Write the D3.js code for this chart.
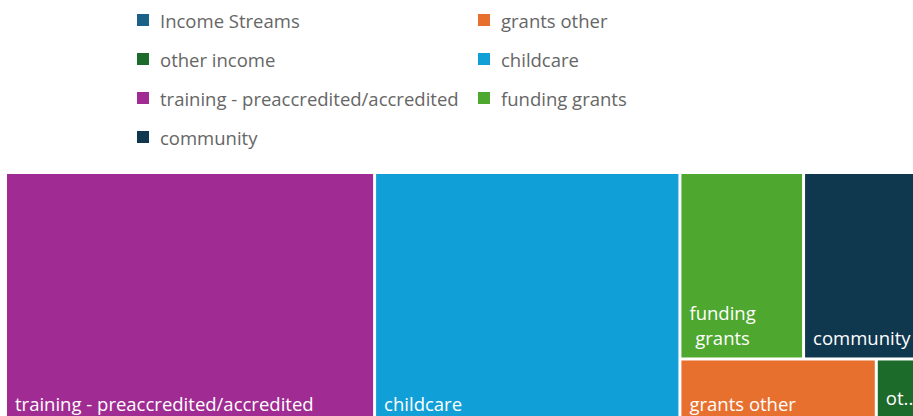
<!DOCTYPE html>
<html>
<head>
<meta charset="utf-8">
<script src="https://cdn.jsdelivr.net/npm/d3@7"></script>
<style>
  body { margin: 0; background: #fff; }
  svg { display: block; font-family: "Open Sans", sans-serif; }
</style>
</head>
<body>
<svg id="chart" width="913" height="416"></svg>
<script>
// income streams
var categories = ["training - preaccredited/accredited", "childcare", "funding grants", "community", "grants other", "other income"];
var values = [90360, 74750, 22400, 21000, 12500, 2750];
var colors = {
  "Income Streams": "#1b6087",
  "grants other": "#e8702f",
  "other income": "#1d6b2a",
  "childcare": "#119fd8",
  "training - preaccredited/accredited": "#a02b93",
  "funding grants": "#4ea72e",
  "community": "#0f374e"
};
var legendLabels = ["Income Streams", "grants other", "other income", "childcare",
  "training - preaccredited/accredited", "funding grants", "community"];

var svg = d3.select("#chart");

// legend, two columns, row-major
var legend = svg.append("g");
var item = legend.selectAll("g")
  .data(legendLabels)
  .enter().append("g")
  .attr("transform", function(d, i) {
    return "translate(" + (i % 2 ? 478 : 137) + "," + (21 + Math.floor(i / 2) * 39) + ")";
  });
item.append("rect")
  .attr("x", 0).attr("y", -7)
  .attr("width", 12).attr("height", 12)
  .attr("fill", function(d) { return colors[d]; });
item.append("text")
  .attr("x", 23).attr("y", 7)
  .attr("font-size", 18.5)
  .attr("fill", "#666")
  .text(function(d) { return d; });

// treemap
var root = d3.hierarchy({
    name: "Income Streams",
    children: categories.map(function(c, i) { return {name: c, value: values[i]}; })
  })
  .sum(function(d) { return d.value || 0; })
  .sort(function(a, b) { return b.value - a.value; });

d3.treemap()
  .tile(d3.treemapSquarify.ratio(1))
  .size([911, 249])
  .paddingInner(3)(root);

var tm = svg.append("g").attr("transform", "translate(7,174)");
var cell = tm.selectAll("g")
  .data(root.leaves())
  .enter().append("g")
  .attr("transform", function(d) { return "translate(" + d.x0 + "," + d.y0 + ")"; });

cell.append("rect")
  .attr("width", function(d) { return d.x1 - d.x0; })
  .attr("height", function(d) { return d.y1 - d.y0; })
  .attr("fill", function(d) { return colors[d.data.name]; });

cell.each(function(d) {
  var g = d3.select(this);
  var w = d.x1 - d.x0, h = d.y1 - d.y0;
  var avail = w - 14;
  var t = g.append("text")
    .attr("x", 8).attr("y", h - 12)
    .attr("font-size", 18.5)
    .attr("fill", "#fff")
    .text(d.data.name);
  if (t.node().getComputedTextLength() <= avail) return;
  var words = d.data.name.split(" ");
  if (words.length == 2 && h > 60) {
    // wrap onto two centred lines if each word fits
    t.text(null);
    var first = t.append("tspan").text(words[0]);
    var second = t.append("tspan").text(words[1]);
    var w1 = first.node().getComputedTextLength();
    var w2 = second.node().getComputedTextLength();
    var bw = Math.max(w1, w2);
    if (bw <= avail) {
      first.attr("x", 8 + (bw - w1) / 2).attr("y", h - 37);
      second.attr("x", 8 + (bw - w2) / 2).attr("y", h - 12);
      return;
    }
  }
  // truncate with dots, letting it run close to the edge
  var s = d.data.name;
  while (s.length > 1) {
    s = s.slice(0, -1);
    t.text(s + "..");
    if (t.node().getComputedTextLength() <= w - 6) break;
  }
  t.attr("y", h - 18);
});
</script>
</body>
</html>
